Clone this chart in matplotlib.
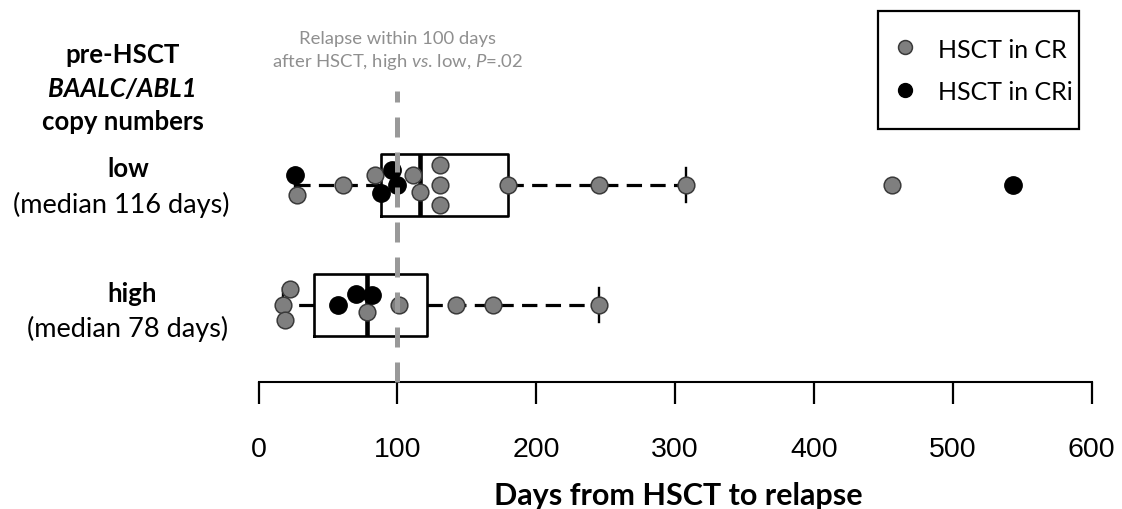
import matplotlib
matplotlib.use("Agg")
import matplotlib.pyplot as plt
from matplotlib.lines import Line2D
from matplotlib.patches import Rectangle

# days from HSCT to relapse, per BAALC/ABL1 group and remission status
LOW_CR = [28, 61, 84, 111, 116, 131, 131, 131, 180, 245, 308, 456]
LOW_CRI = [26, 88, 96, 100, 543]
HIGH_CR = [18, 19, 23, 78, 101, 142, 169, 245]
HIGH_CRI = [57, 70, 82]

# vertical swarm offsets (layout only, in row units)
LOW_CR_DY = [-0.08, 0, 0.08, 0.08, -0.06, 0.17, 0, -0.17, 0, 0, 0, 0]
LOW_CRI_DY = [0.08, -0.07, 0.125, 0, 0]
HIGH_CR_DY = [0, -0.125, 0.13, -0.06, 0, 0, 0, 0]
HIGH_CRI_DY = [0, 0.09, 0.08]

REF_DAY = 100
XTICKS = [0, 100, 200, 300, 400, 500, 600]

plt.rcParams.update({
    "font.family": ["Lato", "DejaVu Sans"],
    "mathtext.fontset": "custom",
    "mathtext.rm": "Lato",
    "mathtext.it": "Lato:italic",
})

W, H = 1122, 510
fig = plt.figure(figsize=(W / 100, H / 100), dpi=100)
ax = fig.add_axes([258.5 / W, 127 / H, 833.2 / W, 383 / H])

Y_LOW, Y_HIGH = 2, 1
ylo = 1 - 77 / 120
ax.set_ylim(ylo, ylo + 383 / 120)
ax.set_xlim(0, 600)

# boxes
ax.boxplot([LOW_CR + LOW_CRI, HIGH_CR + HIGH_CRI], positions=[Y_LOW, Y_HIGH],
           orientation="horizontal", widths=0.52, capwidths=0.28, whis=1.6,
           showfliers=False, manage_ticks=False,
           boxprops=dict(color="black", linewidth=1.9),
           medianprops=dict(color="black", linewidth=3.3),
           whiskerprops=dict(color="black", linewidth=2.3, linestyle=(0, (4.8, 2.6))),
           capprops=dict(color="black", linewidth=1.7),
           zorder=3)

gray_kw = dict(marker="o", markersize=12, markerfacecolor="#7f7f7f",
               markeredgecolor="#3a3a3a", markeredgewidth=1.1, linestyle="none", zorder=4)
black_kw = dict(marker="o", markersize=12.5, markerfacecolor="black",
                markeredgecolor="black", markeredgewidth=1.0, linestyle="none", zorder=4.5)

ax.plot(LOW_CR, [Y_LOW + d for d in LOW_CR_DY], **gray_kw)
ax.plot(HIGH_CR, [Y_HIGH + d for d in HIGH_CR_DY], **gray_kw)
ax.plot(LOW_CRI, [Y_LOW + d for d in LOW_CRI_DY], **black_kw)
ax.plot(HIGH_CRI, [Y_HIGH + d for d in HIGH_CRI_DY], **black_kw)

# 100-day reference line
ax.plot([REF_DAY, REF_DAY], [ylo, ylo + 291 / 120], color="#999999", linewidth=3.6,
        linestyle=(0, (4, 3)), zorder=6, solid_capstyle="butt", clip_on=False)

ax.text(REF_DAY, ylo + (383 - 44) / 120, "Relapse within 100 days",
        ha="center", va="baseline", fontsize=13.3, color="#8f8f8f")
ax.text(REF_DAY, ylo + (383 - 66.7) / 120,
        r"after HSCT, high $vs$. low, $P$=.02",
        ha="center", va="baseline", fontsize=13.3, color="#8f8f8f")

# axis styling
for s in ("left", "top", "right"):
    ax.spines[s].set_visible(False)
ax.spines["bottom"].set_linewidth(1.5)
ax.set_yticks([])
ax.set_xticks(XTICKS, labels=[str(t) for t in XTICKS],
              fontfamily="Liberation Sans", fontsize=20.5)
ax.tick_params(axis="x", direction="out", length=15.8, width=1.6, pad=23)
ax.set_xlabel("Days from HSCT to relapse", fontsize=22, fontweight="bold", va="baseline")
ax.xaxis.set_label_coords((678 - 258.5) / 833.2, -(505 - 383) / 383)


def ftext(xp, yp, s, size, **kw):
    fig.text(xp / W, 1 - yp / H, s, ha="center", va="baseline", fontsize=size, **kw)


ftext(122.5, 63.3, "pre-HSCT", 18.5, fontweight="bold")
ftext(122.5, 96.7, "BAALC/ABL1", 18.5, fontweight="bold", fontstyle="italic")
ftext(122.5, 130, "copy numbers", 18.5, fontweight="bold")
ftext(128, 176.7, "low", 18.5, fontweight="bold")
ftext(121.7, 213, "(median 116 days)", 19.5)
ftext(131.7, 301.7, "high", 18.5, fontweight="bold")
ftext(128, 336.7, "(median 78 days)", 19.5)

# legend box
fig.add_artist(Rectangle((878 / W, 1 - 130 / H), (1079 - 878) / W, (130 - 11.7) / H,
                         transform=fig.transFigure, facecolor="white",
                         edgecolor="black", linewidth=1.6))
for yp, kw, lab in [(48, gray_kw, "HSCT in CR"), (90.7, black_kw, "HSCT in CRi")]:
    mk = dict(kw)
    mk["markersize"] = 10
    fig.add_artist(Line2D([905 / W], [1 - yp / H], transform=fig.transFigure, **mk))
    fig.text(938 / W, 1 - yp / H, lab, ha="left", va="center_baseline", fontsize=18)

fig.savefig("out.png", dpi=100)
